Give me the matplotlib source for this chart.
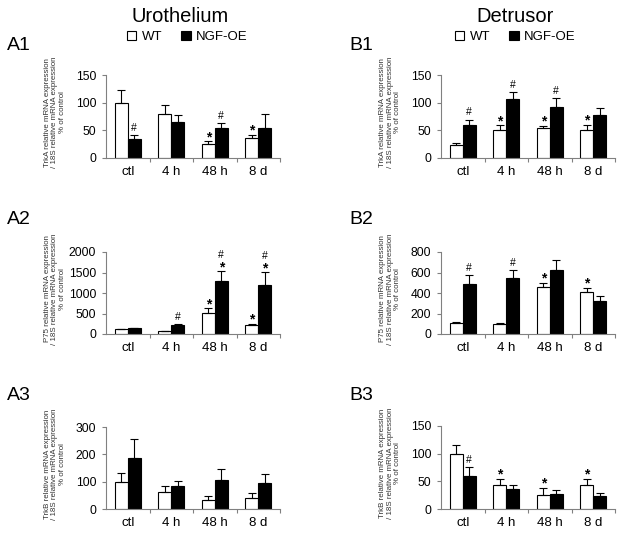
import matplotlib
matplotlib.use("Agg")
import matplotlib.pyplot as plt
import numpy as np

plt.rcParams['font.family'] = ['Liberation Sans', 'DejaVu Sans']

categories = ['ctl', '4 h', '48 h', '8 d']
series_names = ['WT', 'NGF-OE']

# A1 Urothelium TrkA
a1_wt = [99, 79, 26, 36]
a1_wt_err = [24, 17, 4, 6]
a1_ngf = [35, 65, 54, 55]
a1_ngf_err = [7, 13, 10, 24]
a1_wt_sig = ['', '', '*', '*']
a1_ngf_sig = ['#', '', '#', '']

# B1 Detrusor TrkA
b1_wt = [23, 50, 55, 50]
b1_wt_err = [4, 9, 3.5, 10]
b1_ngf = [60.5, 106, 93, 77]
b1_ngf_err = [9, 13, 15.5, 12.5]
b1_wt_sig = ['', '*', '*', '*']
b1_ngf_sig = ['#', '#', '#', '']

# A2 Urothelium P75
a2_wt = [110, 75, 516, 230]
a2_wt_err = [15, 10, 110, 20]
a2_ngf = [135, 214, 1300, 1206]
a2_ngf_err = [15, 40, 230, 300]
a2_wt_sig = ['', '', '*', '*']
a2_ngf_sig = ['', '#', '*#', '*#']

# B2 Detrusor P75
b2_wt = [105, 95, 455, 405]
b2_wt_err = [10, 12, 45, 48]
b2_ngf = [485, 550, 628, 320]
b2_ngf_err = [90, 75, 90, 55]
b2_wt_sig = ['', '', '*', '*']
b2_ngf_sig = ['#', '#', '', '']

# A3 Urothelium TrkB
a3_wt = [100, 63, 33, 40]
a3_wt_err = [30, 20, 13, 20]
a3_ngf = [185, 84, 106, 96]
a3_ngf_err = [70, 20, 42, 32]
a3_wt_sig = ['', '', '', '']
a3_ngf_sig = ['', '', '', '']

# B3 Detrusor TrkB
b3_wt = [100, 44, 26, 43.5]
b3_wt_err = [15, 10.5, 12, 10.5]
b3_ngf = [60.5, 37, 27, 23]
b3_ngf_err = [15.5, 6, 7.5, 6.5]
b3_wt_sig = ['', '*', '*', '*']
b3_ngf_sig = ['#', '', '', '']

ylabels = {
    'TrkA': 'TrkA relative mRNA expression\n/ 18S relative mRNA expression\n% of control',
    'P75': 'P75 relative mRNA expression\n/ 18S relative mRNA expression\n% of control',
    'TrkB': 'TrkB relative mRNA expression\n/ 18S relative mRNA expression\n% of control',
}

W, H = 624, 545
fig = plt.figure(figsize=(W / 100, H / 100), dpi=100)

def fx(px):
    return px / W

def fy(py):
    return 1 - py / H

panels = [
    ('A1', 106, 280, 75, 158, 150, [0, 50, 100, 150], 'TrkA',
     (a1_wt, a1_wt_err, a1_ngf, a1_ngf_err, a1_wt_sig, a1_ngf_sig)),
    ('B1', 441, 615, 75, 158, 150, [0, 50, 100, 150], 'TrkA',
     (b1_wt, b1_wt_err, b1_ngf, b1_ngf_err, b1_wt_sig, b1_ngf_sig)),
    ('A2', 106, 280, 252, 334, 2000, [0, 500, 1000, 1500, 2000], 'P75',
     (a2_wt, a2_wt_err, a2_ngf, a2_ngf_err, a2_wt_sig, a2_ngf_sig)),
    ('B2', 441, 615, 252, 334, 800, [0, 200, 400, 600, 800], 'P75',
     (b2_wt, b2_wt_err, b2_ngf, b2_ngf_err, b2_wt_sig, b2_ngf_sig)),
    ('A3', 106, 280, 427, 509, 300, [0, 100, 200, 300], 'TrkB',
     (a3_wt, a3_wt_err, a3_ngf, a3_ngf_err, a3_wt_sig, a3_ngf_sig)),
    ('B3', 441, 615, 426, 509, 150, [0, 50, 100, 150], 'TrkB',
     (b3_wt, b3_wt_err, b3_ngf, b3_ngf_err, b3_wt_sig, b3_ngf_sig)),
]

panel_label_pos = {'A1': (7, 45), 'A2': (7, 220), 'A3': (7, 395),
                   'B1': (349, 45), 'B2': (349, 220), 'B3': (349, 395)}
ylabel_x = {'A': 55, 'B': 390}

spine_col = '#808080'
width = 0.3
x = np.arange(len(categories))
handles = None

for (lab, l, r, t, b, ymax, yticks, gene, data) in panels:
    ax = fig.add_axes([fx(l), fy(b), fx(r - l), (b - t) / H])
    wt, wt_err, ngf, ngf_err, wt_sig, ngf_sig = data
    b_wt = ax.bar(x - width / 2, wt, width, color='white', edgecolor='black', linewidth=0.8,
                  yerr=[np.zeros(len(wt)), wt_err],
                  error_kw=dict(ecolor='black', elinewidth=0.8, capsize=2.8, capthick=0.8),
                  label=series_names[0], zorder=2)
    b_ngf = ax.bar(x + width / 2, ngf, width, color='black', edgecolor='black', linewidth=0.8,
                   yerr=[np.zeros(len(ngf)), ngf_err],
                   error_kw=dict(ecolor='black', elinewidth=0.8, capsize=2.8, capthick=0.8),
                   label=series_names[1], zorder=2)
    if handles is None:
        handles = [b_wt, b_ngf]
    for vals, errs, sigs, off in ((wt, wt_err, wt_sig, -width / 2), (ngf, ngf_err, ngf_sig, width / 2)):
        for i, s in enumerate(sigs):
            if not s:
                continue
            top = vals[i] + errs[i]
            dy = 1.5
            for ch in s:
                if ch == '*':
                    ax.annotate('*', (x[i] + off, top), xytext=(0, dy - 3.5),
                                textcoords='offset points', ha='center', va='bottom',
                                fontsize=10, fontweight='bold')
                    dy += 6.5
                else:
                    ax.annotate('#', (x[i] + off, top), xytext=(0, dy),
                                textcoords='offset points', ha='center', va='bottom',
                                fontsize=7.5)
                    dy += 8
    ax.set_xlim(-0.5, 3.5)
    ax.set_ylim(0, ymax)
    ax.set_yticks(yticks)
    ax.set_xticks(x)
    ax.set_xticklabels(categories)
    ax.set_xticks([0.5, 1.5, 2.5, 3.5], minor=True)
    ax.tick_params(axis='x', which='major', length=0, pad=6, labelsize=9.5)
    ax.tick_params(axis='x', which='minor', length=3, width=0.8, color=spine_col, direction='out')
    ax.tick_params(axis='y', length=3, width=0.8, color=spine_col, pad=4, labelsize=8.7)
    for sp in ('top', 'right'):
        ax.spines[sp].set_visible(False)
    for sp in ('left', 'bottom'):
        ax.spines[sp].set_color(spine_col)
        ax.spines[sp].set_linewidth(0.8)
    fig.text(fx(ylabel_x[lab[0]]), fy((t + b) / 2 - 4), ylabels[gene], rotation=90,
             ha='center', va='center', fontsize=5.7, color='#333333', linespacing=1.15)
    px, py = panel_label_pos[lab]
    fig.text(fx(px), fy(py), lab, ha='left', va='center', fontsize=14)

fig.text(fx(180), fy(16), 'Urothelium', ha='center', va='center', fontsize=14.5)
fig.text(fx(515), fy(16), 'Detrusor', ha='center', va='center', fontsize=14.5)

for cx in (187, 515):
    fig.legend(handles=handles, labels=series_names, loc='center',
               bbox_to_anchor=(fx(cx), fy(37)), ncol=2, frameon=False,
               fontsize=9.5, handlelength=0.75, handleheight=0.75,
               handletextpad=0.4, columnspacing=1.4, borderpad=0, borderaxespad=0)

fig.savefig('out.png', dpi=100)
